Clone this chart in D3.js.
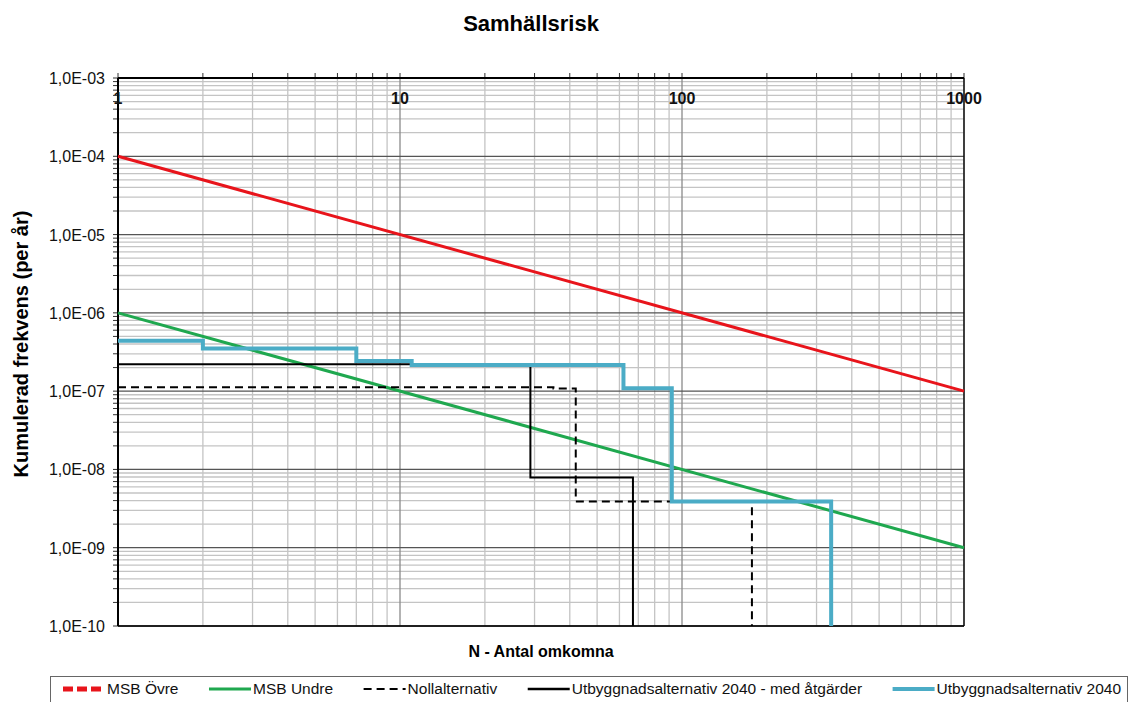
<!DOCTYPE html>
<html><head><meta charset="utf-8">
<script src="https://cdn.jsdelivr.net/npm/d3@7"></script>
<style>body{margin:0;background:#fff;font-family:Arial,"Liberation Sans",sans-serif;}</style>
</head><body><svg id="c" width="1130" height="702"></svg>
<script>
const title = "Samhällsrisk";
const xTitle = "N - Antal omkomna";
const yTitle = "Kumulerad frekvens (per år)";
const xTicks = [1, 10, 100, 1000];
const yTicks = [1e-3, 1e-4, 1e-5, 1e-6, 1e-7, 1e-8, 1e-9, 1e-10];
const yTickLabels = ["1,0E-03","1,0E-04","1,0E-05","1,0E-06","1,0E-07","1,0E-08","1,0E-09","1,0E-10"];
const seriesNames = ["MSB Övre","MSB Undre","Nollalternativ","Utbyggnadsalternativ 2040 - med åtgärder","Utbyggnadsalternativ 2040"];
const msbOvre = [[1,1e-4],[1000,1e-7]];
const msbUndre = [[1,1e-6],[1000,1e-9]];
const nollalt = [[1,1.12e-7],[35,1.12e-7],[35,1.08e-7],[42,1.08e-7],[42,3.9e-9],[177,3.9e-9],[177,1e-10]];
const medAtgarder = [[1,2.2e-7],[29,2.2e-7],[29,7.9e-9],[67,7.9e-9],[67,1e-10]];
const utbyggnad = [[1,4.4e-7],[2,4.4e-7],[2,3.5e-7],[7,3.5e-7],[7,2.43e-7],[11,2.43e-7],[11,2.15e-7],[62,2.15e-7],[62,1.09e-7],[92,1.09e-7],[92,3.9e-9],[338,3.9e-9],[338,1e-10]];

const svg = d3.select("#c");
const L=118, R=964, T=78, B=626;
const x = d3.scaleLog().domain([1,1000]).range([L,R]);
const y = d3.scaleLog().domain([1e-10,1e-3]).range([B,T]);

const xMinor=[], yMinor=[];
for (let d=1; d<1000; d*=10) for (let k=2;k<=9;k++) xMinor.push(d*k);
for (let e=-10; e<-3; e++) for (let k=2;k<=9;k++) yMinor.push(k*Math.pow(10,e));

const g = svg.append("g");
g.selectAll(".vmin").data(xMinor).join("line").attr("x1",d=>x(d)).attr("x2",d=>x(d)).attr("y1",T).attr("y2",B).attr("stroke","#c4c4c4").attr("stroke-width",1.3);
g.selectAll(".hmin").data(yMinor).join("line").attr("y1",d=>y(d)).attr("y2",d=>y(d)).attr("x1",L).attr("x2",R).attr("stroke","#c4c4c4").attr("stroke-width",1.3);
g.selectAll(".vmaj").data(xTicks).join("line").attr("x1",d=>x(d)).attr("x2",d=>x(d)).attr("y1",T).attr("y2",B).attr("stroke","#8a8a8a").attr("stroke-width",1.3);
g.selectAll(".hmaj").data(yTicks).join("line").attr("y1",d=>y(d)).attr("y2",d=>y(d)).attr("x1",L).attr("x2",R).attr("stroke","#555").attr("stroke-width",1.3);

g.selectAll(".ty").data(yMinor.concat(yTicks)).join("line").attr("y1",d=>y(d)).attr("y2",d=>y(d)).attr("x1",L-5).attr("x2",L).attr("stroke","#333");
g.selectAll(".tx").data(xMinor.concat(xTicks)).join("line").attr("x1",d=>x(d)).attr("x2",d=>x(d)).attr("y1",T-5).attr("y2",T).attr("stroke","#333");
g.append("line").attr("x1",L).attr("x2",L).attr("y1",T).attr("y2",B).attr("stroke","#000").attr("stroke-width",2);
g.append("line").attr("x1",L).attr("x2",R).attr("y1",T).attr("y2",T).attr("stroke","#000").attr("stroke-width",2);
g.append("line").attr("x1",R).attr("x2",R).attr("y1",T).attr("y2",B).attr("stroke","#000").attr("stroke-width",1.3);
g.append("line").attr("x1",L).attr("x2",R).attr("y1",B).attr("y2",B).attr("stroke","#000").attr("stroke-width",1.3);

g.selectAll(".yl").data(yTicks).join("text").attr("x",L-13).attr("y",d=>y(d)+6).attr("text-anchor","end").attr("font-size",16).attr("fill","#111").text((d,i)=>yTickLabels[i]);
g.selectAll(".xl").data(xTicks).join("text").attr("x",d=>x(d)).attr("y",T+26).attr("text-anchor","middle").attr("font-size",16).attr("font-weight","bold").attr("fill","#111").text(d=>d);

const line = d3.line().x(d=>x(d[0])).y(d=>y(d[1]));
const series = [
  {data:msbOvre, color:"#e8141b", w:3, dash:null},
  {data:msbUndre, color:"#1fa84f", w:3, dash:null},
  {data:nollalt, color:"#000", w:2, dash:"8,5"},
  {data:medAtgarder, color:"#000", w:2, dash:null},
  {data:utbyggnad, color:"#4bacc6", w:4, dash:null}
];
series.forEach(s=>{
  g.append("path").attr("d",line(s.data)).attr("fill","none").attr("stroke",s.color).attr("stroke-width",s.w).attr("stroke-dasharray",s.dash);
});

svg.append("text").attr("x",531).attr("y",31).attr("text-anchor","middle").attr("font-size",22).attr("font-weight","bold").text(title);
svg.append("text").attr("x",(L+R)/2).attr("y",657).attr("text-anchor","middle").attr("font-size",16).attr("font-weight","bold").text(xTitle);
svg.append("text").attr("transform","translate(28,344) rotate(-90)").attr("text-anchor","middle").attr("font-size",20).attr("font-weight","bold").text(yTitle);

// legend: sequential layout, items spread to fill box
const lg = svg.append("g");
lg.append("rect").attr("x",50.5).attr("y",676.5).attr("width",1077).attr("height",30).attr("fill","#fff").attr("stroke","#666");
const legStyles = [
  {color:"#e8141b", w:5, dash:"10,4"},
  {color:"#1fa84f", w:3, dash:null},
  {color:"#000", w:2, dash:"8,5"},
  {color:"#000", w:2.5, dash:null},
  {color:"#4bacc6", w:4, dash:null}
];
const fs = 15.5, lineLen = 42, tgap = 2, startX = 63, endX = 1121;
const texts = seriesNames.map(n => lg.append("text").attr("font-size",fs).attr("fill","#111").attr("y",694).text(n));
const widths = texts.map(t => t.node().getComputedTextLength());
const total = widths.reduce((a,b)=>a+b,0) + seriesNames.length*(lineLen+tgap);
const G = (endX - startX - total) / (seriesNames.length-1);
let cx = startX;
legStyles.forEach((st,i)=>{
  lg.append("line").attr("x1",cx).attr("x2",cx+lineLen).attr("y1",689).attr("y2",689).attr("stroke",st.color).attr("stroke-width",st.w).attr("stroke-dasharray",st.dash);
  texts[i].attr("x",cx+lineLen+tgap);
  cx += lineLen + tgap + widths[i] + G;
});
</script></body></html>
